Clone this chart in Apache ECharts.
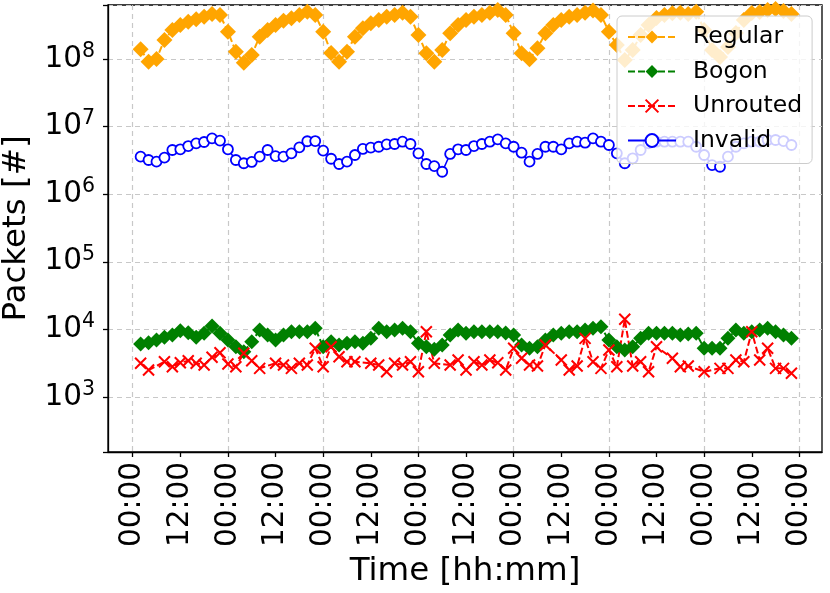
<!DOCTYPE html>
<html>
<head>
<meta charset="utf-8">
<script src="https://cdn.jsdelivr.net/npm/echarts@6/dist/echarts.min.js"></script>
<style>
html, body { margin: 0; padding: 0; background: #fff; }
#chart { width: 830px; height: 593px; }
</style>
</head>
<body>
<div id="chart"></div>
<script>
// Sample times, hours since the first 00:00
const HOURS = [2, 4, 6, 8, 10, 12, 14, 16, 18, 20, 22, 24, 26, 28, 30, 32, 34, 36, 38, 40,
  42, 44, 46, 48, 50, 52, 54, 56, 58, 60, 62, 64, 66, 68, 70, 72, 74, 76, 78, 80,
  82, 84, 86, 88, 90, 92, 94, 96, 98, 100, 102, 104, 106, 108, 110, 112, 114, 116, 118, 120,
  122, 124, 126, 128, 130, 132, 134, 136, 138, 140, 142, 144, 146, 148, 150, 152, 154, 156, 158, 160,
  162, 164, 166];

// Tick positions (hours) and their labels
const X_TICKS = [0, 12, 24, 36, 48, 60, 72, 84, 96, 108, 120, 132, 144, 156, 168];
const X_TICK_LABELS = ['00:00', '12:00', '00:00', '12:00', '00:00', '12:00', '00:00', '12:00',
  '00:00', '12:00', '00:00', '12:00', '00:00', '12:00', '00:00'];
const X_GRID = [0, 24, 48, 72, 96, 120, 144, 168];

// Packets per sample
const REGULAR = [1.39e8, 0.91e8, 1.00e8, 1.91e8, 2.69e8, 3.18e8, 3.56e8, 3.87e8, 4.23e8, 4.63e8,
  4.48e8, 2.54e8, 1.28e8, 0.88e8, 1.15e8, 2.14e8, 2.69e8, 3.18e8, 3.69e8, 4.00e8,
  4.48e8, 5.01e8, 4.48e8, 2.54e8, 1.23e8, 0.91e8, 1.28e8, 2.14e8, 2.85e8, 3.38e8,
  3.78e8, 4.23e8, 4.48e8, 4.84e8, 4.23e8, 2.26e8, 1.22e8, 0.91e8, 1.36e8, 2.40e8,
  3.18e8, 3.78e8, 4.23e8, 4.48e8, 4.84e8, 5.31e8, 4.48e8, 2.40e8, 1.22e8, 0.99e8,
  1.44e8, 2.40e8, 3.18e8, 3.78e8, 4.23e8, 4.48e8, 4.84e8, 5.20e8, 4.48e8, 2.54e8,
  1.61e8, 0.97e8, 1.36e8, 2.26e8, 3.18e8, 4.04e8, 4.48e8, 4.74e8, 4.84e8, 4.63e8,
  5.01e8, 2.69e8, 1.36e8, 1.07e8, 1.51e8, 2.43e8, 3.78e8, 4.79e8, 4.96e8, 5.31e8,
  5.49e8, 5.13e8, 4.63e8];

const BOGON = [6090, 6360, 6970, 7640, 8270, 9570, 8950, 7640, 8770, 11250,
  8770, 6970, 5550, 4680, 6580, 9800, 8270, 6970, 8270, 9250,
  9250, 9250, 10400, 5550, 6580, 5880, 6230, 6580, 6230, 7390,
  10400, 9250, 9800, 10400, 9250, 6230, 5550, 5080, 5880, 8270,
  9800, 8770, 9250, 9250, 9250, 9250, 8850, 8270, 5880, 5260,
  5550, 6970, 8270, 8770, 9250, 9250, 9800, 10400, 10990, 6970,
  5550, 4960, 5550, 7390, 8770, 8770, 8770, 8770, 8270, 8550,
  8770, 5260, 5260, 5260, 7390, 9800, 8770, 9250, 9800, 10400,
  9250, 8270, 7390];

const UNROUTED = [3160, 2510, null, 3330, 2810, 3220, 3450, 3160, 2980, 3870,
  4530, 3080, 2810, 4440, 3450, 2660, null, 3160, 2980, 2660,
  3160, 2980, 5260, 2810, 5550, 3950, 3330, 3330, null, 3160,
  2980, 2370, 3160, 2980, 3330, 2370, 9250, 3160, null, 2980,
  3530, 2510, 3330, 2980, 3530, 3220, 2510, 5260, 3740, 2980,
  2880, 5890, null, 3530, 2510, 2880, 7390, 3330, 2660, 4960,
  2810, 14120, 2880, 3330, 2370, 5550, null, 3740, 2810, 2880,
  null, 2370, null, 2660, 2660, 3530, 3330, 9250, 3530, 5260,
  2660, 2660, 2250];

const INVALID = [3.59e6, 3.21e6, 3.03e6, 3.47e6, 4.51e6, 4.62e6, 5.16e6, 5.66e6, 5.92e6, 6.71e6,
  6.19e6, 4.62e6, 3.21e6, 2.87e6, 3.00e6, 3.59e6, 4.51e6, 3.67e6, 3.59e6, 4.03e6,
  4.94e6, 6.07e6, 6.12e6, 4.41e6, 3.35e6, 2.80e6, 3.03e6, 3.80e6, 4.67e6, 4.88e6,
  5.04e6, 5.47e6, 5.53e6, 5.98e6, 5.53e6, 4.03e6, 2.80e6, 2.61e6, 2.15e6, 3.94e6,
  4.62e6, 4.51e6, 5.16e6, 5.53e6, 5.98e6, 6.49e6, 5.66e6, 5.04e6, 4.11e6, 3.03e6,
  3.94e6, 5.04e6, 5.04e6, 4.62e6, 5.66e6, 5.98e6, 5.78e6, 6.71e6, 5.98e6, 5.35e6,
  4.03e6, 2.87e6, 3.40e6, 4.51e6, 5.66e6, 5.98e6, 5.98e6, 5.98e6, 5.98e6, 5.98e6,
  5.04e6, 3.80e6, 2.70e6, 2.55e6, 3.59e6, 5.04e6, 5.66e6, 5.98e6, 5.98e6, 6.34e6,
  6.34e6, 6.12e6, 5.35e6];

const FONT = 'DejaVu Sans';
const X_MIN = -6.22;
const X_MAX = 173.7;

const chart = echarts.init(document.getElementById('chart'));

function pairs(values) {
    return HOURS.map((h, i) => [h, values[i]]);
}

const dashed = [7, 3];

const option = {
    animation: false,
    backgroundColor: '#fff',
    grid: {
        left: 108, right: 8, top: 5, bottom: 141,
        outerBoundsMode: 'none', containLabel: false,
        show: true, borderColor: '#000', borderWidth: 1.3, backgroundColor: 'transparent'
    },
    legend: {
        orient: 'vertical',
        left: 617, top: 16,
        padding: [8, 10, 10, 10],
        itemWidth: 48, itemHeight: 16, itemGap: 8.5,
        backgroundColor: 'rgba(255,255,255,0.8)',
        borderColor: '#cccccc', borderWidth: 1, borderRadius: 5,
        textStyle: { fontFamily: FONT, fontSize: 23.5, lineHeight: 26, color: '#000', padding: [0, 0, 0, 12] },
        data: ['Regular', 'Bogon', 'Unrouted', 'Invalid']
    },
    xAxis: [
        {
            type: 'value', min: X_MIN, max: X_MAX,
            name: 'Time [hh:mm]', nameLocation: 'middle', nameGap: 100,
            nameTextStyle: { fontFamily: FONT, fontSize: 32.5, color: '#000' },
            axisLine: { show: true, onZero: false, lineStyle: { color: '#000', width: 1.3 } },
            axisTick: { show: true, customValues: X_TICKS, length: 5, lineStyle: { color: '#000', width: 1.3 } },
            axisLabel: {
                customValues: X_TICKS, rotate: 90, margin: 10,
                fontFamily: FONT, fontSize: 29.5, color: '#000',
                formatter: v => X_TICK_LABELS[X_TICKS.indexOf(Math.round(v))] || ''
            },
            splitLine: { show: false }
        },
        {
            type: 'value', min: X_MIN, max: X_MAX, position: 'bottom',
            axisLine: { show: false, onZero: false },
            axisTick: { show: false, customValues: X_GRID },
            axisLabel: { show: false },
            splitLine: { show: true, lineStyle: { color: '#c8c8c8', width: 1.2, type: [5, 4] } }
        }
    ],
    yAxis: {
        type: 'log', logBase: 10, min: 154, max: 6.29e8,
        name: 'Packets [#]', nameLocation: 'middle', nameGap: 71,
        nameTextStyle: { fontFamily: FONT, fontSize: 32.5, color: '#000' },
        axisLine: { show: true, onZero: false, lineStyle: { color: '#000', width: 1.3 } },
        axisTick: { show: true, length: 5, lineStyle: { color: '#000', width: 1.3 } },
        axisLabel: {
            margin: 13,
            formatter: function (v) {
                const e = Math.log10(v);
                const r = Math.round(e);
                if (Math.abs(e - r) > 1e-6) return '';
                return '{b|10}{e|' + r + '}';
            },
            rich: {
                b: { fontFamily: FONT, fontSize: 29.5, color: '#000' },
                e: { fontFamily: FONT, fontSize: 20.5, color: '#000', padding: [0, 0, 15, 0] }
            }
        },
        splitLine: { show: true, lineStyle: { color: '#c8c8c8', width: 1.2, type: [5, 4] } }
    },
    series: [
        {
            name: 'Regular', type: 'line', data: pairs(REGULAR),
            showAllSymbol: true, symbol: 'diamond', symbolSize: 16,
            itemStyle: { color: '#ffa500' },
            lineStyle: { color: '#ffa500', width: 2, type: dashed }
        },
        {
            name: 'Bogon', type: 'line', data: pairs(BOGON),
            showAllSymbol: true, symbol: 'diamond', symbolSize: 15,
            itemStyle: { color: '#008000' },
            lineStyle: { color: '#008000', width: 2, type: dashed }
        },
        {
            name: 'Unrouted', type: 'line', data: pairs(UNROUTED), connectNulls: true,
            showAllSymbol: true, symbol: 'path://M0,0L10,10M10,0L0,10', symbolSize: 11,
            itemStyle: { color: '#ff0000', borderColor: '#ff0000', borderWidth: 2 },
            lineStyle: { color: '#ff0000', width: 2, type: dashed }
        },
        {
            name: 'Invalid', type: 'line', data: pairs(INVALID),
            showAllSymbol: true, symbol: 'circle', symbolSize: 10,
            itemStyle: { color: '#ffffff', borderColor: '#0000ff', borderWidth: 1.8 },
            lineStyle: { color: '#0000ff', width: 1.6 }
        }
    ]
};

chart.setOption(option);
</script>
</body>
</html>
